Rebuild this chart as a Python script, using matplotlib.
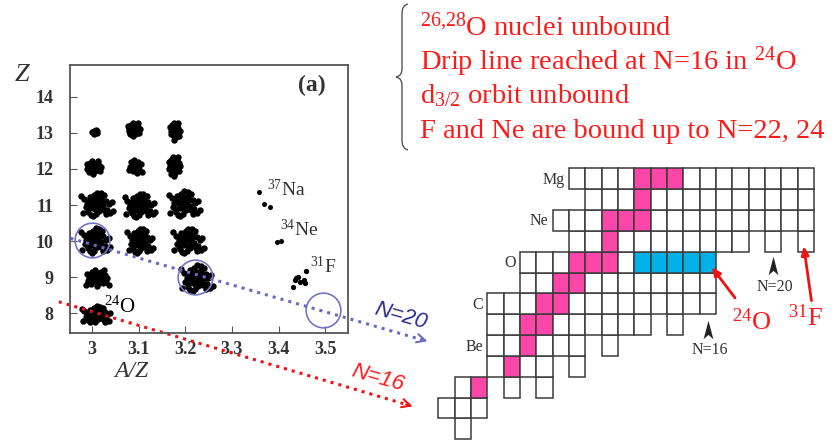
import matplotlib
matplotlib.use('Agg')
import matplotlib.pyplot as plt
import numpy as np
from matplotlib.patches import Rectangle, PathPatch
from matplotlib.path import Path

plt.rcParams['font.family'] = ['Liberation Serif', 'DejaVu Serif']
plt.rcParams['mathtext.fontset'] = 'custom'
plt.rcParams['mathtext.rm'] = 'Liberation Serif'
plt.rcParams['mathtext.it'] = 'Liberation Serif:italic'
plt.rcParams['mathtext.bf'] = 'Liberation Serif:bold'

# ---- (a) particle identification: A/Z vs Z ----
# cluster centres (A/Z, Z), half widths and number of dots drawn
clu_az = [3.007, 3.089, 3.177, 3.003, 3.092, 3.176, 3.008, 3.100, 3.195,
          3.005, 3.101, 3.204, 3.010, 3.222, 3.007]
clu_z = [13.03, 13.10, 13.05, 12.05, 12.05, 12.08, 11.03, 11.00, 11.05,
         10.03, 10.02, 10.02, 8.99, 8.98, 7.97]
clu_wx = [0.010, 0.015, 0.012, 0.018, 0.018, 0.014, 0.031, 0.030, 0.030,
          0.028, 0.025, 0.030, 0.026, 0.031, 0.029]
clu_wz = [0.12, 0.20, 0.28, 0.20, 0.25, 0.30, 0.31, 0.31, 0.33,
          0.33, 0.33, 0.33, 0.27, 0.35, 0.22]
clu_n = [7, 30, 18, 22, 14, 24, 40, 40, 40, 40, 40, 40, 32, 40, 38]

# shape of one cloud of events (unit offsets)
cloud = [(0.0, 0.0), (0.3, 0.1), (-0.3, 0.2), (0.1, 0.5), (-0.2, -0.4),
         (0.5, -0.2), (-0.6, 0.0), (0.2, -0.6), (0.7, 0.3), (-0.4, 0.6),
         (0.4, 0.6), (-0.7, -0.3), (0.8, -0.5), (-0.1, 0.8), (0.0, -0.9),
         (0.6, 0.8), (-0.8, 0.4), (0.9, 0.0), (-0.5, -0.7), (0.3, -0.3),
         (-0.3, -0.1), (0.15, 0.25), (-0.15, 0.35), (0.45, 0.3), (-0.45, 0.25),
         (0.25, -0.15), (-0.25, 0.6), (0.55, -0.55), (-0.55, -0.45), (0.05, -0.5),
         (1.0, -0.8), (-0.9, -0.8), (0.35, 0.95), (-0.35, -0.95), (1.1, 0.2),
         (-1.0, 0.7), (0.7, -0.9), (0.1, 1.0), (-0.2, -1.05), (1.2, -0.6)]

# the few new isotopes
na37_az = [3.359, 3.368, 3.381]
na37_z = [11.37, 11.03, 10.95]
ne34_az = [3.396, 3.405]
ne34_z = [9.98, 10.00]
f31_az = [3.432, 3.436, 3.441, 3.446, 3.454, 3.457, 3.459, 3.438]
f31_z = [8.74, 8.92, 9.01, 8.88, 8.92, 8.83, 9.18, 8.97]

circ_az = [3.000, 3.221, 3.496]
circ_z = [10.03, 9.01, 8.09]

xticks = [3.0, 3.1, 3.2, 3.3, 3.4, 3.5]
xticklabels = ['3', '3.1', '3.2', '3.3', '3.4', '3.5']
yticks = [8, 9, 10, 11, 12, 13, 14]

# ---- (b) chart of nuclides: neutron numbers present for each Z ----
chart_n = {
    0: [1],
    1: [0, 1, 2],
    2: [1, 2, 4, 6],
    3: [3, 4, 5, 6, 8],
    4: [3, 4, 5, 6, 7, 8, 10],
    5: list(range(3, 13)) + [14],
    6: list(range(3, 17)),
    7: list(range(5, 17)),
    8: list(range(5, 17)),
    9: list(range(8, 19)) + [20, 22],
    10: list(range(7, 23)),
    11: list(range(9, 23)),
    12: list(range(8, 23)),
}
stable = {2: [2], 3: [4], 4: [5], 5: [5, 6], 6: [6, 7], 7: [7, 8],
          8: [8, 9, 10], 9: [10], 10: [10, 11, 12], 11: [12], 12: [12, 13, 14]}
oxygen_bound = [12, 13, 14, 15, 16]
elem_z = [12, 10, 8, 6, 4]
elem_names = ['Mg', 'Ne', 'O', 'C', 'Be']

notes = [r'$^{26{,}28}$O nuclei unbound',
         r'Drip line reached at N=16 in $^{24}$O',
         r'd$_{3/2}$ orbit unbound',
         r'F and Ne are bound up to N=22, 24']

fig = plt.figure(figsize=(8.35, 4.42), dpi=100)

ax = fig.add_axes([0.0838, 0.2466, 0.3330, 0.6063])
for cx, cz, wx, wz, n in zip(clu_az, clu_z, clu_wx, clu_wz, clu_n):
    pts = np.array(cloud[:n])
    ax.plot(cx + pts[:, 0] * wx, cz + pts[:, 1] * wz, 'o', color='black',
            ms=4.6, mew=0)
ax.plot(na37_az, na37_z, 'o', color='black', ms=3.6, mew=0)
ax.plot(ne34_az, ne34_z, 'o', color='black', ms=3.6, mew=0)
ax.plot(f31_az, f31_z, 'o', color='black', ms=3.8, mew=0)
ax.plot(circ_az, circ_z, 'o', mfc='none', mec='#7474c4', ms=25, mew=1.2,
        clip_on=False)

ax.set_xlim(2.953, 3.549)
ax.set_ylim(7.455, 14.88)
ax.set_xticks(xticks)
ax.set_xticklabels(xticklabels)
ax.set_yticks(yticks)
ax.tick_params(direction='in', length=5, color='#555555', labelsize=13)
ax.tick_params(axis='y', pad=12)
ax.tick_params(axis='x', pad=6)
for lab in ax.get_xticklabels() + ax.get_yticklabels():
    lab.set_fontweight('bold')
    lab.set_color('#333333')
for sp in ax.spines.values():
    sp.set_color('#555555')
    sp.set_linewidth(1.3)

ax.text(3.025, 8.02, r'$^{24}$O', fontsize=15, va='baseline')
ax.text(3.375, 11.25, r'$^{37}$Na', fontsize=14, va='baseline', color='#333333')
ax.text(3.404, 10.14, r'$^{34}$Ne', fontsize=14, va='baseline', color='#333333')
ax.text(3.468, 9.12, r'$^{31}$F', fontsize=14, va='baseline', color='#333333')
ax.text(0.870, 0.925, '(a)', transform=ax.transAxes, fontsize=17,
        fontweight='bold', ha='center', va='center', color='#333333')
fig.text(0.0263, 0.830, 'Z', fontsize=19, style='italic', ha='center',
         va='center', color='#333333')
fig.text(0.157, 0.1606, 'A/Z', fontsize=17, style='italic', ha='center',
         va='center', color='#333333')

# N=20 and N=16 guide lines, running out of the panel
ax.plot([2.954, 3.715], [10.08, 7.24], ':', color='#6a6ac0', lw=2.2,
        clip_on=False)
ax.annotate('', xy=(3.725, 7.205), xytext=(3.70, 7.30),
            arrowprops=dict(arrowstyle='->,head_length=0.6,head_width=0.3',
                            color='#6a6ac0', lw=1.5), annotation_clip=False)
ax.text(3.661, 7.93, 'N=20', fontsize=16, color='#2c2c96', rotation=-16,
        ha='center', va='center', family='Liberation Sans', style='italic')

ax.plot([2.929, 3.683], [8.32, 5.44], ':', color='#ee1111', lw=2.2,
        clip_on=False)
ax.annotate('', xy=(3.693, 5.40), xytext=(3.668, 5.50),
            arrowprops=dict(arrowstyle='->,head_length=0.6,head_width=0.3',
                            color='#ee1111', lw=1.5), annotation_clip=False)
ax.text(3.613, 6.21, 'N=16', fontsize=16, color='#ff1a1a', rotation=-16,
        ha='center', va='center', family='Liberation Sans', style='italic')

# chart of nuclides
bx = fig.add_axes([0.5249, 0.0061, 0.4499, 0.6131])
bx.set_xlim(-0.5, 22.5)
bx.set_ylim(-0.5, 12.5)
bx.axis('off')
for z, ns in chart_n.items():
    for n in ns:
        fc = 'white'
        if n in stable.get(z, []):
            fc = '#fc46a8'
        if z == 8 and n in oxygen_bound:
            fc = '#00b2e8'
        bx.add_patch(Rectangle((n - 0.5, z - 0.5), 1, 1, facecolor=fc,
                               edgecolor='#3a3a3a', lw=1.1, clip_on=False))
for z, name in zip(elem_z, elem_names):
    bx.text(chart_n[z][0] - 0.75, z - 0.05, name, fontsize=11.5, ha='right',
            va='center', color='#333333')

arrowhead = Path([(0, 1), (0.5, -0.9), (0, -0.45), (-0.5, -0.9), (0, 1)],
                 [Path.MOVETO, Path.LINETO, Path.LINETO, Path.LINETO,
                  Path.CLOSEPOLY])
bx.plot([16], [4.74], marker=arrowhead, ms=14, color='#222222', mew=0,
        clip_on=False)
bx.text(16.14, 3.78, 'N=16', fontsize=11.5, ha='center', va='center',
        color='#333333')
bx.plot([20], [7.79], marker=arrowhead, ms=14, color='#222222', mew=0,
        clip_on=False)
bx.text(20.1, 6.80, 'N=20', fontsize=11.5, ha='center', va='center',
        color='#333333')

bx.annotate('', xy=(16.14, 7.86), xytext=(17.77, 6.18),
            arrowprops=dict(arrowstyle='-|>,head_length=0.5,head_width=0.22',
                            color='#ee1111', lw=2), annotation_clip=False)
bx.annotate('', xy=(21.85, 8.9), xytext=(22.37, 6.02),
            arrowprops=dict(arrowstyle='-|>,head_length=0.5,head_width=0.22',
                            color='#ee1111', lw=2), annotation_clip=False)
bx.text(18.7, 5.13, r'$^{24}$O', fontsize=19, color='#ff1a1a', ha='center',
        va='center')
bx.text(22.0, 5.32, r'$^{31}$F', fontsize=19, color='#ff1a1a', ha='center',
        va='center')

# summary notes with a brace
for txt, yb in zip(notes, [0.9186, 0.8416, 0.767, 0.688]):
    fig.text(0.503, yb, txt, fontsize=20.5, color='#ff1a1a', va='baseline')

bp = [(408, 4), (404, 5), (402, 8), (402, 14), (402, 68), (402, 74),
      (400, 76), (396, 77), (400, 78), (402, 80), (402, 86), (402, 140),
      (402, 146), (404, 149), (408, 150)]
codes = [Path.MOVETO, Path.CURVE4, Path.CURVE4, Path.CURVE4, Path.LINETO,
         Path.CURVE4, Path.CURVE4, Path.CURVE4, Path.CURVE4, Path.CURVE4,
         Path.CURVE4, Path.LINETO, Path.CURVE4, Path.CURVE4, Path.CURVE4]
brace = Path([(x / 835, 1 - y / 442) for x, y in bp], codes)
fig.add_artist(PathPatch(brace, transform=fig.transFigure, fill=False,
                         edgecolor='#555555', lw=1.0))

fig.savefig('out.png', dpi=100)
